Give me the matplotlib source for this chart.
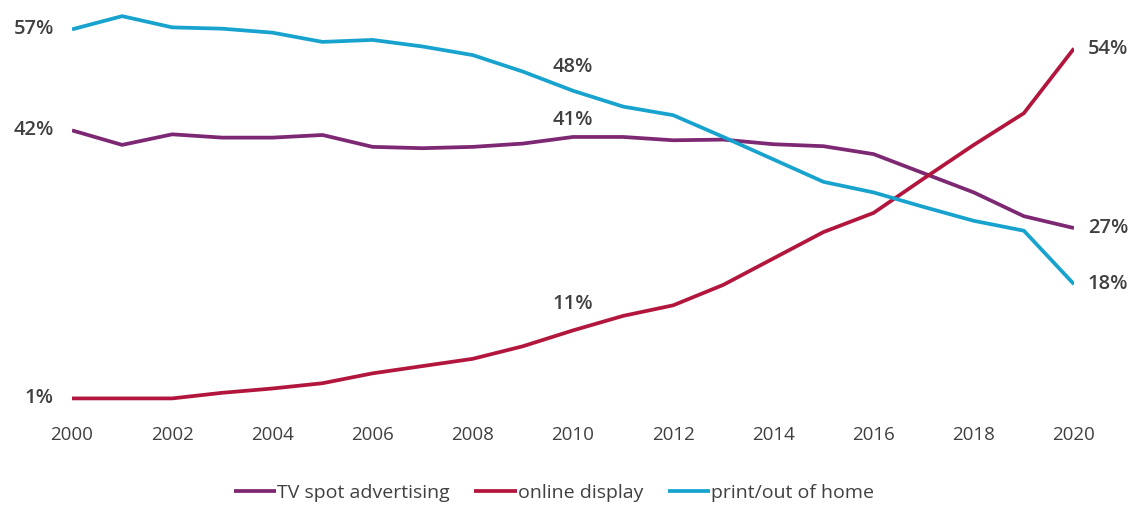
import numpy as np
import matplotlib
matplotlib.use("Agg")
import matplotlib.pyplot as plt

plt.rcParams['font.family'] = ['Open Sans', 'DejaVu Sans']

years = np.arange(2000, 2021)

tv_spot = [41.6, 39.4, 41.0, 40.5, 40.5, 40.9, 39.1, 38.9, 39.1, 39.6, 40.6,
           40.6, 40.1, 40.2, 39.5, 39.2, 38.0, 35.1, 32.2, 28.6, 26.8]
online = [1.0, 1.0, 1.0, 1.85, 2.5, 3.3, 4.8, 5.9, 7.0, 8.9, 11.3,
          13.5, 15.1, 18.2, 22.2, 26.2, 29.1, 34.3, 39.4, 44.2, 54.0]
print_ooh = [56.9, 58.9, 57.2, 57.0, 56.4, 55.0, 55.3, 54.3, 53.0, 50.5, 47.6,
             45.2, 43.9, 40.6, 37.2, 33.8, 32.2, 30.0, 27.9, 26.4, 18.3]

series_names = ['TV spot advertising', 'online display', 'print/out of home']
colors = ['#7D2872', '#B3163D', '#17A3CE']
label_years = [2000, 2010, 2020]
mid_offsets = [12, 19, 17]   # points above the 2010 value

fig = plt.figure(figsize=(11.36, 5.05), dpi=100)
ax = fig.add_axes([0.0634, 0.198, 0.882, 0.7844])

for vals, name, col, off in zip([tv_spot, online, print_ooh], series_names, colors, mid_offsets):
    ax.plot(years, vals, '-', color=col, lw=2.7, label=name, solid_capstyle='butt')
    for yr in label_years:
        v = vals[list(years).index(yr)]
        txt = '%d%%' % round(v)
        if yr == 2000:
            ax.annotate(txt, (yr, v), xytext=(-13, 0), textcoords='offset points',
                        ha='right', va='center', fontsize=14.5, fontweight='semibold', color='#404040')
        elif yr == 2020:
            ax.annotate(txt, (yr, v), xytext=(10, 0), textcoords='offset points',
                        ha='left', va='center', fontsize=14.5, fontweight='semibold', color='#404040')
        else:
            ax.annotate(txt, (yr, v), xytext=(0, off), textcoords='offset points',
                        ha='center', va='center', fontsize=14.5, fontweight='semibold', color='#404040')

ax.set_xlim(2000, 2020)
ax.set_ylim(0, 60)
ax.set_xticks(np.arange(2000, 2021, 2))
ax.tick_params(axis='x', length=0, pad=15, labelsize=13.5, labelcolor='#404040')
ax.set_yticks([])
for s in ax.spines.values():
    s.set_visible(False)

fig.legend(loc='center', bbox_to_anchor=(0.4877, 0.024), ncol=3, frameon=False,
           fontsize=14, handlelength=2.2, handletextpad=0.05, columnspacing=1.25,
           labelcolor='#404040', borderpad=0)

fig.savefig('out.png', dpi=100)
